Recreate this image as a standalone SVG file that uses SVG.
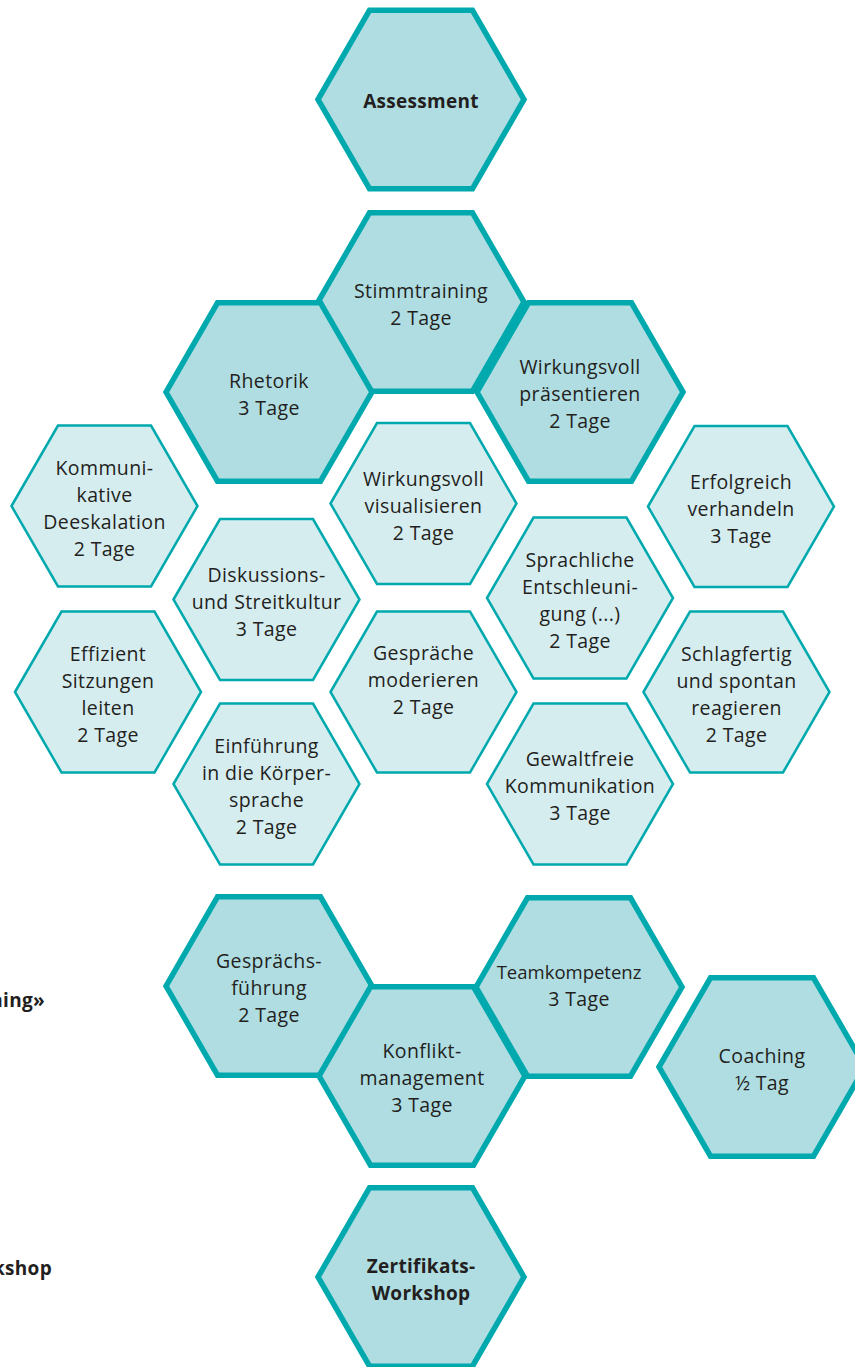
<svg xmlns="http://www.w3.org/2000/svg" xmlns:xlink="http://www.w3.org/1999/xlink" width="855" height="1367" viewBox="0 0 855 1367">
<style>
.dk{fill:#afdde2;stroke:#00a9ad;stroke-width:5.5;stroke-linejoin:miter}
.lt{fill:#d6edf0;stroke:#00a9ad;stroke-width:2.5;stroke-linejoin:miter}
text{font-family:"Open Sans","Liberation Sans",sans-serif;font-size:19.5px;letter-spacing:0.4px;fill:#231f20;text-anchor:middle}
.b{font-weight:bold;font-size:19px;letter-spacing:0.3px}
.n{font-size:18.5px;letter-spacing:0}
</style>
<defs>
<polygon id="hd" points="-103,0 -51.5,-89.2 51.5,-89.2 103,0 51.5,89.2 -51.5,89.2"/>
<polygon id="hl" points="-93,0 -46.5,-80.5 46.5,-80.5 93,0 46.5,80.5 -46.5,80.5"/>
</defs>
<rect width="855" height="1367" fill="#ffffff"/>
<g id="connectors"/>
<g id="assessment" transform="translate(421,99.5)"><use href="#hd" class="dk"/><text class="b" y="8">Assessment</text></g>
<g id="stimmtraining" transform="translate(421,302)"><use href="#hd" class="dk"/><text y="-4.5">Stimmtraining</text><text y="22.5">2 Tage</text></g>
<g id="rhetorik" transform="translate(269,392)"><use href="#hd" class="dk"/><text y="-4.5">Rhetorik</text><text y="22.5">3 Tage</text></g>
<g id="praesentieren" transform="translate(580,392)"><use href="#hd" class="dk"/><text y="-18">Wirkungsvoll</text><text y="9">präsentieren</text><text y="36">2 Tage</text></g>
<g id="deeskalation" transform="translate(104.5,506)"><use href="#hl" class="lt"/><text y="-31.5">Kommuni-</text><text y="-4.5">kative</text><text y="22.5">Deeskalation</text><text y="49.5">2 Tage</text></g>
<g id="sitzungen" transform="translate(108,692)"><use href="#hl" class="lt"/><text y="-31.5">Effizient</text><text y="-4.5">Sitzungen</text><text y="22.5">leiten</text><text y="49.5">2 Tage</text></g>
<g id="visualisieren" transform="translate(423.5,503.5)"><use href="#hl" class="lt"/><text y="-18">Wirkungsvoll</text><text y="9">visualisieren</text><text y="36">2 Tage</text></g>
<g id="streitkultur" transform="translate(266.5,599.5)"><use href="#hl" class="lt"/><text y="-18">Diskussions-</text><text y="9">und Streitkultur</text><text y="36">3 Tage</text></g>
<g id="moderieren" transform="translate(423.5,692)"><use href="#hl" class="lt"/><text y="-32">Gespräche</text><text y="-5">moderieren</text><text y="22">2 Tage</text></g>
<g id="koerpersprache" transform="translate(266.5,784)"><use href="#hl" class="lt"/><text y="-31.5">Einführung</text><text y="-4.5">in die Körper-</text><text y="22.5">sprache</text><text y="49.5">2 Tage</text></g>
<g id="entschleunigung" transform="translate(580,598)"><use href="#hl" class="lt"/><text y="-31.5">Sprachliche</text><text y="-4.5">Entschleuni-</text><text y="22.5">gung (...)</text><text y="49.5">2 Tage</text></g>
<g id="gewaltfrei" transform="translate(580,784)"><use href="#hl" class="lt"/><text y="-18">Gewaltfreie</text><text y="9">Kommunikation</text><text y="36">3 Tage</text></g>
<g id="verhandeln" transform="translate(741,506.5)"><use href="#hl" class="lt"/><text y="-18">Erfolgreich</text><text y="9">verhandeln</text><text y="36">3 Tage</text></g>
<g id="schlagfertig" transform="translate(736.5,692)"><use href="#hl" class="lt"/><text y="-31.5">Schlagfertig</text><text y="-4.5">und spontan</text><text y="22.5">reagieren</text><text y="49.5">2 Tage</text></g>
<g id="gespraechsfuehrung" transform="translate(269,986)"><use href="#hd" class="dk"/><text y="-18">Gesprächs-</text><text y="9">führung</text><text y="36">2 Tage</text></g>
<g id="teamkompetenz" transform="translate(579,987)"><use href="#hd" class="dk"/><text class="n" x="-10" y="-8">Teamkompetenz</text><text y="19">3 Tage</text></g>
<g id="konfliktmanagement" transform="translate(422,1076)"><use href="#hd" class="dk"/><text y="-18">Konflikt-</text><text y="9">management</text><text y="36">3 Tage</text></g>
<g id="coaching" transform="translate(762,1067)"><use href="#hd" class="dk"/><text y="-4.5">Coaching</text><text y="22.5">½ Tag</text></g>
<g id="zertifikat" transform="translate(421,1277)"><use href="#hd" class="dk"/><text class="b" y="-4.5">Zertifikats-</text><text class="b" y="22.5">Workshop</text></g>
<g id="cut-labels">
<text class="b" x="45" y="1007" style="text-anchor:end">ning»</text>
<text class="b" x="52" y="1275" style="text-anchor:end">kshop</text>
</g>
</svg>
